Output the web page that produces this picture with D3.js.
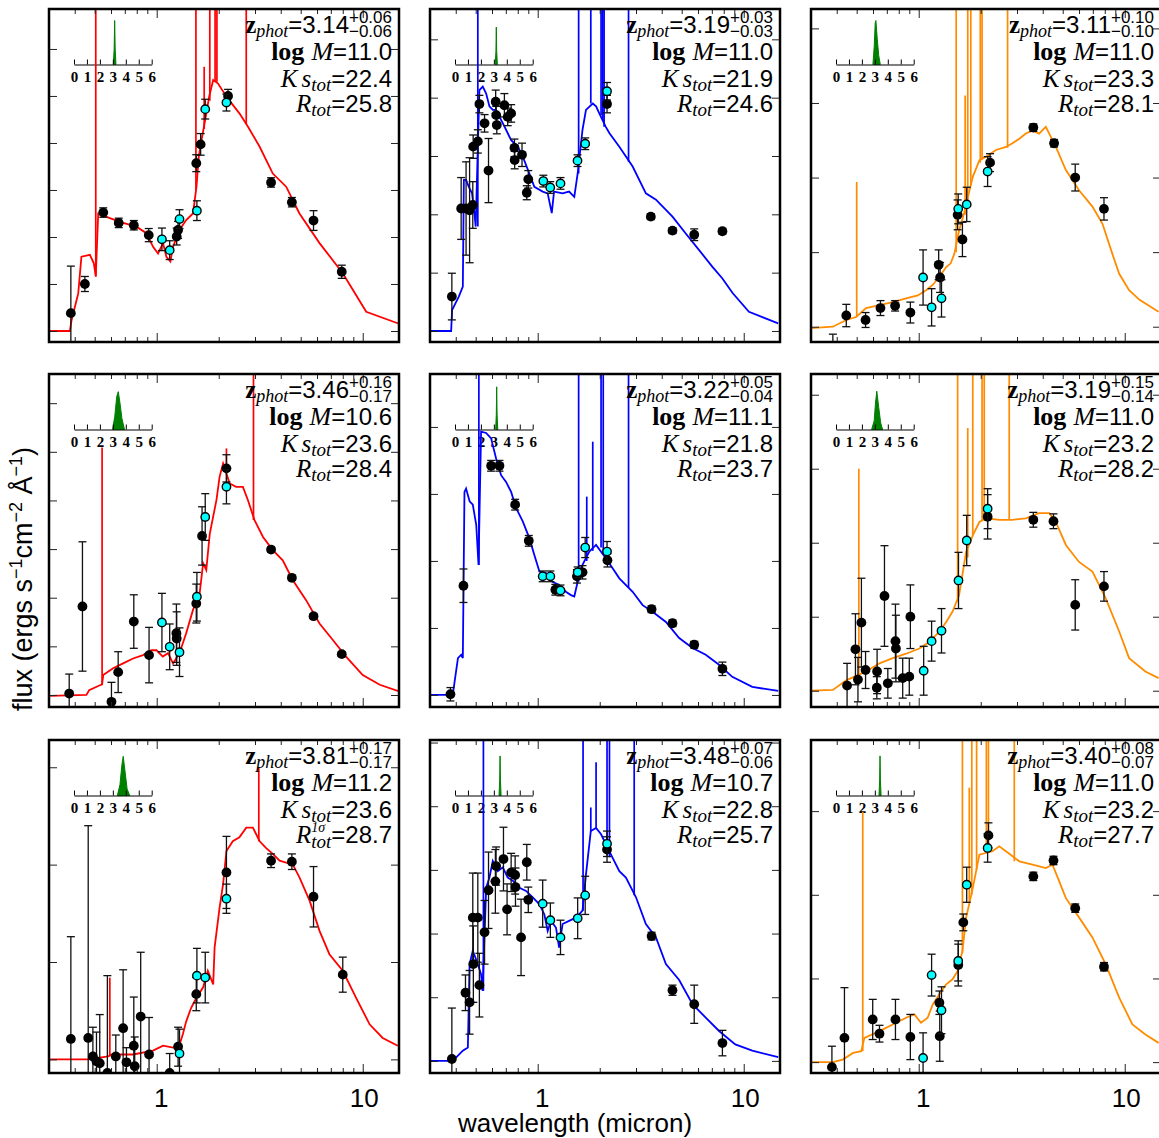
<!DOCTYPE html>
<html lang="en">
<head>
<meta charset="UTF-8">
<title>SED fits</title>
<script src="https://d3js.org/d3.v7.min.js"></script>
<style>
  body { margin: 0; background: #fff; }
  svg { display: block; }
</style>
</head>
<body>
<div id="chart"></div>
<script>
// ---- data: wavelength in micron, flux in arbitrary tick units ----
const waveRange = [0.3, 15];
const xMajorTicks = [1, 10];
const xMinorTicks = [0.3, 0.4, 0.5, 0.6, 0.7, 0.8, 0.9, 2, 3, 4, 5, 6, 7, 8, 9];
const zTicks = [0, 1, 2, 3, 4, 5, 6];

const fluxRange = [[-0.234, 6.85], [-0.189, 5.52], [-0.205, 4.26],
                   [-0.247, 6.6], [-0.18, 4.79], [-0.22, 4.28],
                   [-0.14, 3.28], [-0.19, 5.04], [-0.13, 3.85]];

const zPhot  = ["3.14", "3.19", "3.11", "3.46", "3.22", "3.19", "3.81", "3.48", "3.40"];
const zPlus  = ["0.06", "0.03", "0.10", "0.16", "0.05", "0.15", "0.17", "0.07", "0.08"];
const zMinus = ["0.06", "0.03", "0.10", "0.17", "0.04", "0.14", "0.17", "0.06", "0.07"];
const logMass = ["11.0", "11.0", "11.0", "10.6", "11.1", "11.0", "11.2", "10.7", "11.0"];
const ksTot  = ["22.4", "21.9", "23.3", "23.6", "21.8", "23.2", "23.6", "22.8", "23.2"];
const rTot   = ["25.8", "24.6", "28.1", "28.4", "23.7", "28.2", "28.7", "25.7", "27.7"];
const rSup   = [null, null, null, null, null, null, "1σ", null, null];

// model spectra [lambda, flux]
const model1 = [[0.30,0],[0.379,0],[0.386,0.23],[0.416,0.80],[0.431,1.58],[0.474,1.62],[0.495,1.44],[0.506,1.16],[0.520,2.50],[0.592,2.40],[0.687,2.30],[0.797,2.22],[0.891,2.08],[0.96,1.79],[1.015,1.65],[1.073,1.87],[1.114,1.58],[1.165,1.48],[1.2,1.79],[1.29,2.15],[1.39,2.36],[1.50,2.50],[1.56,3.07],[1.60,3.71],[1.65,4.06],[1.72,4.5],[1.80,5.0],[1.88,5.34],[1.98,5.27],[2.18,4.99],[2.34,4.81],[2.52,4.63],[2.77,4.35],[3.16,3.92],[3.66,3.35],[4.25,3.07],[4.93,2.50],[6.17,1.87],[8.0,1.23],[10.4,0.41],[14.9,0.16]];
const model2 = [[0.298,0],[0.38,0],[0.384,0.36],[0.402,0.5],[0.414,0.59],[0.433,0.76],[0.438,2.59],[0.449,2.59],[0.463,2.47],[0.48,2.36],[0.493,2.02],[0.50,1.79],[0.521,4.13],[0.541,4.19],[0.562,4.07],[0.583,3.85],[0.605,3.79],[0.627,3.79],[0.664,3.62],[0.702,3.45],[0.743,3.27],[0.80,3.16],[0.846,2.99],[0.911,2.70],[0.963,2.47],[1.057,2.39],[1.118,2.36],[1.17,2.02],[1.20,2.39],[1.32,2.36],[1.42,2.39],[1.505,2.30],[1.563,2.70],[1.65,3.45],[1.715,3.79],[1.85,3.90],[1.92,3.85],[1.99,3.73],[2.14,3.50],[2.23,3.39],[2.49,3.16],[2.89,2.82],[3.35,2.36],[3.75,2.25],[4.51,1.96],[5.23,1.67],[6.06,1.39],[7.05,1.10],[7.88,0.90],[8.83,0.65],[10.6,0.33],[14.7,0.13]];
const model3 = [[0.30,-0.02],[0.383,0],[0.445,0.09],[0.497,0.13],[0.555,0.25],[0.645,0.29],[0.748,0.33],[0.868,0.38],[0.99,0.42],[1.085,0.49],[1.17,0.56],[1.26,0.67],[1.36,0.80],[1.43,0.85],[1.49,0.98],[1.57,1.29],[1.66,1.52],[1.83,2.01],[1.97,2.23],[2.12,2.28],[2.37,2.37],[2.65,2.41],[2.85,2.46],[3.08,2.52],[3.31,2.59],[3.57,2.63],[3.84,2.59],[4.14,2.68],[4.30,2.59],[4.63,2.41],[5.18,2.10],[6.0,1.83],[6.97,1.61],[7.8,1.38],[8.7,0.98],[9.4,0.71],[10.5,0.49],[11.8,0.36],[14.6,0.2]];
const model4 = [[0.302,-0.02],[0.456,0],[0.47,0.1],[0.53,0.2],[0.543,0.22],[0.55,0.41],[0.614,0.55],[0.687,0.65],[0.768,0.75],[0.858,0.82],[0.942,0.92],[0.998,0.92],[1.07,0.79],[1.135,0.86],[1.2,0.65],[1.29,0.86],[1.39,1.27],[1.5,1.75],[1.616,2.09],[1.68,2.71],[1.74,2.57],[1.81,3.32],[1.95,4.01],[2.02,4.49],[2.10,4.76],[2.26,4.35],[2.43,4.28],[2.62,4.28],[2.77,4.01],[2.98,3.60],[3.28,3.25],[3.66,2.98],[4.09,2.77],[4.58,2.36],[5.31,1.95],[6.17,1.47],[7.16,1.13],[8.3,0.79],[10.0,0.41],[12.1,0.21],[14.9,0.08]];
const model5 = [[0.298,0],[0.387,0],[0.395,0.2],[0.41,0.55],[0.425,0.6],[0.433,0.55],[0.441,3.03],[0.449,3.08],[0.467,2.89],[0.484,2.84],[0.503,2.54],[0.516,1.94],[0.531,3.93],[0.562,3.91],[0.594,3.83],[0.628,3.53],[0.664,3.28],[0.702,3.18],[0.743,3.03],[0.785,2.79],[0.846,2.59],[0.911,2.34],[0.963,2.09],[1.02,1.84],[1.097,1.82],[1.18,1.69],[1.27,1.64],[1.37,1.54],[1.45,1.49],[1.505,1.47],[1.563,1.69],[1.65,1.94],[1.78,2.14],[1.92,2.24],[2.14,2.04],[2.31,1.89],[2.49,1.74],[2.89,1.54],[3.23,1.34],[3.61,1.24],[4.19,1.09],[4.86,0.85],[5.64,0.70],[6.54,0.60],[7.59,0.45],[8.8,0.27],[11.0,0.12],[14.7,0.06]];
const model6 = [[0.30,0],[0.383,0.01],[0.445,0.14],[0.506,0.21],[0.555,0.26],[0.645,0.37],[0.748,0.44],[0.868,0.50],[1.007,0.57],[1.13,0.66],[1.26,0.80],[1.36,0.93],[1.46,1.07],[1.57,1.29],[1.70,1.88],[1.83,2.10],[1.97,2.28],[2.12,2.33],[2.46,2.31],[2.85,2.31],[3.31,2.33],[3.84,2.40],[4.30,2.40],[4.63,2.28],[5.18,1.97],[6.0,1.74],[6.97,1.61],[8.08,1.25],[9.4,0.80],[10.5,0.44],[12.6,0.26],[14.6,0.17]];
const model7 = [[0.302,0],[0.465,0],[0.581,0.03],[0.603,0.05],[0.768,0.05],[0.96,0.09],[1.073,0.14],[1.20,0.12],[1.29,0.15],[1.34,0.26],[1.39,0.39],[1.47,0.53],[1.556,0.63],[1.68,0.74],[1.77,0.91],[1.88,0.77],[1.91,1.15],[2.02,1.56],[2.10,1.80],[2.18,2.14],[2.34,2.24],[2.52,2.28],[2.72,2.38],[2.93,2.38],[3.16,2.24],[3.40,2.17],[3.66,2.11],[3.95,2.04],[4.25,2.02],[4.58,2.0],[4.93,1.87],[5.52,1.63],[6.17,1.32],[6.89,1.08],[8.0,0.91],[9.3,0.63],[10.8,0.36],[12.5,0.22],[14.8,0.14]];
const model8 = [[0.298,0],[0.387,0],[0.433,0.16],[0.458,0.21],[0.467,1.52],[0.484,1.73],[0.512,1.52],[0.531,1.36],[0.54,1.10],[0.562,2.72],[0.583,2.88],[0.605,3.14],[0.64,2.98],[0.677,3.04],[0.715,2.88],[0.757,2.83],[0.815,2.72],[0.878,2.67],[0.946,2.57],[1.02,2.46],[1.077,2.30],[1.118,2.04],[1.16,2.20],[1.227,2.09],[1.27,1.78],[1.32,2.15],[1.42,2.20],[1.535,2.25],[1.65,2.36],[1.715,2.93],[1.81,3.61],[1.92,3.66],[2.03,3.56],[2.31,3.19],[2.49,2.98],[2.68,2.88],[3.0,2.57],[3.35,2.15],[3.75,1.94],[4.19,1.52],[4.86,1.27],[5.64,0.89],[6.54,0.68],[7.59,0.47],[9.1,0.26],[11.0,0.16],[14.7,0.06]];
const model9 = [[0.30,0],[0.383,0],[0.428,0.03],[0.48,0.11],[0.526,0.13],[0.545,0.29],[0.645,0.37],[0.748,0.45],[0.868,0.53],[0.953,0.57],[1.026,0.47],[1.105,0.53],[1.17,0.69],[1.26,0.81],[1.36,0.93],[1.46,0.99],[1.545,1.09],[1.63,1.33],[1.70,1.73],[1.83,2.08],[1.97,2.48],[2.28,2.52],[2.46,2.58],[2.65,2.52],[3.08,2.40],[3.57,2.36],[4.14,2.32],[4.46,2.36],[4.81,2.16],[5.18,1.96],[6.0,1.73],[6.97,1.49],[8.08,1.17],[9.4,0.77],[10.9,0.45],[12.6,0.33],[14.6,0.23]];

// emission lines [lambda, base flux, top flux]
const spikes1 = [[0.506,1.16,99],[1.55,3.0,99],[1.70,4.3,5.62],[1.81,4.9,99],[1.92,5.3,99],[1.96,5.3,99],[2.72,4.4,99]];
const spikes2 = [[0.512,1.79,99],[1.58,2.7,99],[1.81,3.9,99],[2.03,3.7,99],[2.07,3.6,99],[2.10,3.5,99],[2.76,2.9,99]];
const spikes3 = [[0.50,0.13,1.94],[1.52,1.0,99],[1.68,1.5,3.1],[1.73,1.7,99],[1.79,1.9,99],[1.99,2.2,99],[2.03,2.25,99],[2.70,2.4,99]];
const spikes4 = [[0.543,0.22,5.09],[2.18,4.6,5.07],[2.95,3.6,99]];
const spikes5 = [[0.518,1.94,99],[1.58,1.69,99],[1.73,2.0,2.96],[1.85,2.15,3.78],[2.03,2.2,99],[2.08,2.1,99],[2.76,1.6,99]];
const spikes6 = [[0.512,0.21,3.0],[1.545,1.2,99],[1.73,1.8,3.55],[1.83,2.1,99],[2.03,2.3,99],[2.08,2.3,99],[2.75,2.31,99]];
const spikes7 = [[0.592,0.03,0.84],[3.13,2.24,3.0]];
const spikes8 = [[0.545,1.1,99],[1.66,2.36,99],[1.81,3.6,3.98],[1.92,3.66,4.69],[2.17,3.3,99],[2.23,3.2,99],[2.94,2.6,99]];
const spikes9 = [[0.535,0.13,2.99],[1.63,1.3,99],[1.76,1.9,3.28],[1.81,2.0,99],[1.91,2.3,99],[2.13,2.5,99],[2.18,2.5,99],[2.91,2.4,99]];

// broad/intermediate band photometry [lambda, flux, err]
const phot1 = [[0.383,0.38,1.0],[0.448,1.0,0.16],[0.550,2.52,0.1],[0.654,2.30,0.1],[0.774,2.25,0.1],[0.915,2.04,0.14],[1.25,2.01,0.18],[1.27,2.15,0.18],[1.556,3.57,0.18],[1.634,3.97,0.23],[2.22,5.0,0.14],[3.59,3.16,0.1],[4.53,2.74,0.1],[5.77,2.35,0.21],[7.91,1.26,0.14]];
const phot2 = [[0.383,0.59,0.4],[0.425,2.10,0.53],[0.449,2.10,0.8],[0.467,2.07,0.9],[0.484,2.16,0.4],[0.486,3.16,0.2],[0.512,3.25,0.2],[0.521,3.89,0.15],[0.552,3.56,0.15],[0.577,2.75,0.55],[0.625,3.93,0.2],[0.629,3.70,0.15],[0.633,3.53,0.15],[0.689,3.87,0.2],[0.715,3.67,0.15],[0.743,3.73,0.15],[0.771,3.14,0.15],[0.773,2.93,0.15],[0.839,3.02,0.2],[0.885,2.37,0.12],[0.90,2.60,0.15],[2.17,3.89,0.15],[3.54,1.96,0.05],[4.51,1.72,0.05],[5.75,1.65,0.1],[7.88,1.71,0.05]];
const phot3 = [[0.383,-0.4,0.3],[0.445,0.15,0.15],[0.552,0.09,0.1],[0.652,0.25,0.1],[0.768,0.28,0.07],[0.911,0.19,0.14],[1.25,0.83,0.2],[1.27,0.66,0.2],[1.545,1.50,0.2],[1.63,1.17,0.23],[2.22,2.20,0.12],[3.6,2.67,0.05],[4.54,2.46,0.05],[5.75,2.0,0.18],[7.93,1.58,0.15]];
const phot4 = [[0.376,0.03,0.4],[0.436,1.82,1.33],[0.603,-0.14,0.4],[0.65,0.47,0.42],[0.774,1.51,0.55],[0.918,0.82,0.57],[1.246,1.27,0.6],[1.25,1.16,0.55],[1.556,1.88,0.4],[1.66,3.27,0.6],[2.18,4.66,0.28],[3.59,2.99,0.05],[4.53,2.41,0.05],[5.77,1.62,0.05],[7.91,0.84,0.05]];
const phot5 = [[0.377,0.01,0.1],[0.436,1.63,0.25],[0.594,3.42,0.08],[0.652,3.42,0.08],[0.777,2.84,0.08],[0.905,2.30,0.08],[1.218,1.57,0.08],[1.55,1.77,0.1],[1.65,1.83,0.1],[2.18,2.01,0.1],[3.57,1.28,0.05],[4.51,1.07,0.05],[5.75,0.75,0.05],[7.88,0.39,0.1]];
const phot6 = [[0.449,0.07,0.3],[0.493,0.56,0.48],[0.507,0.15,0.3],[0.527,0.92,0.6],[0.552,0.28,0.25],[0.628,0.26,0.3],[0.626,0.04,0.15],[0.682,1.28,0.68],[0.708,0.10,0.2],[0.771,0.67,0.5],[0.775,0.57,0.45],[0.836,0.17,0.27],[0.90,0.19,0.25],[0.911,1.0,0.43],[2.16,2.35,0.3],[3.6,2.31,0.1],[4.51,2.29,0.1],[5.75,1.16,0.34],[7.93,1.41,0.2]];
const phot7 = [[0.383,0.21,1.05],[0.465,0.22,2.18],[0.49,0.03,0.3],[0.51,-0.02,0.3],[0.529,-0.04,0.5],[0.576,-0.14,1.0],[0.633,0.03,0.22],[0.687,0.32,0.6],[0.713,-0.03,0.15],[0.774,0.14,0.5],[0.782,-0.07,0.3],[0.836,0.44,0.66],[0.918,0.05,0.38],[1.156,-0.14,0.2],[1.27,0.13,0.2],[1.556,0.67,0.17],[2.18,1.92,0.37],[3.59,2.04,0.07],[4.53,2.03,0.08],[5.77,1.67,0.31],[8.0,0.87,0.18]];
const phot8 = [[0.383,0.03,0.8],[0.446,1.07,0.28],[0.467,0.92,0.5],[0.484,2.25,0.7],[0.487,1.52,0.6],[0.512,2.25,0.7],[0.521,1.19,0.5],[0.552,2.02,0.5],[0.577,2.68,0.6],[0.623,2.82,0.5],[0.628,3.06,0.3],[0.682,3.17,0.5],[0.71,2.38,0.4],[0.743,2.96,0.3],[0.777,2.92,0.3],[0.78,2.73,0.3],[0.83,1.94,0.6],[0.885,3.12,0.28],[0.90,2.53,0.2],[2.17,3.32,0.2],[3.57,1.96,0.06],[4.51,1.11,0.08],[5.75,0.89,0.3],[7.88,0.28,0.2]];
const phot9 = [[0.379,-0.06,0.25],[0.436,0.29,0.6],[0.598,0.51,0.24],[0.645,0.34,0.1],[0.771,0.51,0.24],[0.911,0.30,0.27],[1.26,0.71,0.14],[1.265,0.31,0.3],[1.556,1.16,0.25],[1.646,1.67,0.1],[2.18,2.71,0.15],[3.6,2.22,0.05],[4.51,2.41,0.05],[5.75,1.84,0.05],[7.93,1.14,0.05]];

// NIR medium bands [lambda, flux, err]
const med1 = [[1.06,1.95,0.24],[1.156,1.72,0.2],[1.29,2.38,0.2],[1.567,2.56,0.21],[1.72,4.72,0.21],[2.18,4.86,0.18]];
const med2 = [[1.065,2.57,0.1],[1.15,2.46,0.1],[1.29,2.53,0.1],[1.56,2.92,0.1],[1.70,3.21,0.1],[2.17,4.11,0.15]];
const med3 = [[1.05,0.66,0.37],[1.155,0.26,0.25],[1.29,0.38,0.25],[1.555,1.58,0.2],[1.71,1.64,0.23],[2.16,2.08,0.2]];
const med4 = [[1.06,1.49,0.6],[1.156,0.99,0.47],[1.29,0.88,0.5],[1.567,2.02,0.5],[1.72,3.66,0.48],[2.18,4.28,0.35]];
const med5 = [[1.057,1.77,0.08],[1.152,1.77,0.08],[1.29,1.56,0.08],[1.563,1.83,0.08],[1.70,2.20,0.15],[2.17,2.14,0.15]];
const med6 = [[1.057,0.27,0.33],[1.155,0.67,0.27],[1.29,0.81,0.3],[1.56,1.49,0.38],[1.71,2.03,0.34],[2.16,2.46,0.27]];
const med7 = [[1.29,0.06,0.25],[1.567,0.86,0.28],[1.72,0.84,0.26],[2.18,1.65,0.15]];
const med8 = [[1.057,2.47,0.37],[1.152,2.21,0.27],[1.29,1.94,0.27],[1.563,2.24,0.32],[1.70,2.60,0.3],[2.17,3.41,0.2]];
const med9 = [[1.05,0.05,0.3],[1.155,1.04,0.25],[1.29,0.62,0.28],[1.555,1.21,0.24],[1.71,2.12,0.21],[2.16,2.56,0.17]];

// redshift probability (normalised) [z, P]
const pz1 = [[3.04,0],[3.10,0.35],[3.14,1.0],[3.18,0.35],[3.24,0]];
const pz2 = [[3.11,0],[3.16,0.3],[3.19,0.85],[3.22,0.3],[3.27,0]];
const pz3 = [[2.85,0],[2.95,0.4],[3.03,0.95],[3.08,1.0],[3.18,0.6],[3.3,0.2],[3.42,0]];
const pz4 = [[2.98,0],[3.15,0.3],[3.3,0.75],[3.42,0.86],[3.55,0.6],[3.7,0.25],[3.9,0]];
const pz5 = [[3.14,0],[3.19,0.35],[3.22,0.97],[3.25,0.35],[3.3,0]];
const pz6 = [[2.75,0],[2.95,0.2],[3.05,0.6],[3.15,0.87],[3.3,0.5],[3.45,0.15],[3.6,0]];
const pz7 = [[3.35,0],[3.55,0.25],[3.7,0.7],[3.8,0.89],[3.92,0.6],[4.1,0.15],[4.3,0]];
const pz8 = [[3.40,0],[3.45,0.35],[3.48,0.9],[3.51,0.35],[3.56,0]];
const pz9 = [[3.32,0],[3.37,0.35],[3.40,0.9],[3.43,0.35],[3.48,0]];

const models = [model1, model2, model3, model4, model5, model6, model7, model8, model9];
const spikes = [spikes1, spikes2, spikes3, spikes4, spikes5, spikes6, spikes7, spikes8, spikes9];
const phots = [phot1, phot2, phot3, phot4, phot5, phot6, phot7, phot8, phot9];
const meds = [med1, med2, med3, med4, med5, med6, med7, med8, med9];
const pzs = [pz1, pz2, pz3, pz4, pz5, pz6, pz7, pz8, pz9];
const colColors = ["#ff0000", "#0000ff", "#ff8c00"];

// ---- layout ----
const SERIF = "'Liberation Serif','DejaVu Serif',serif";
const SANS = "'Liberation Sans',Arial,sans-serif";
const colLeft = [49, 430, 811], rowTop = [9, 374, 740];
const W = 350, H = 333;

const svg = d3.select("#chart").append("svg")
  .attr("width", 1159).attr("height", 1138);

function styled(sel, p) {
  return sel.attr("font-family", p.f === "serif" ? SERIF : SANS)
    .attr("font-size", p.s)
    .attr("font-weight", p.b ? "bold" : "normal")
    .attr("font-style", p.i ? "italic" : "normal");
}

// one text per line, right aligned; a "stack" puts its second part under the first
function writeLine(g, pieces, xRight, yBase) {
  const t = g.append("text").attr("x", xRight).attr("y", yBase)
    .attr("text-anchor", "end").attr("fill", "#000");
  let cur = 0;
  const add = (p, dx) => {
    const s = styled(t.append("tspan"), p).attr("dy", (p.dy || 0) - cur).text(p.t);
    if (dx) s.attr("dx", dx);
    cur = p.dy || 0;
    return s;
  };
  pieces.forEach(p => {
    if (p.stack) {
      const a = add(p.stack[0], 0);
      add(p.stack[1], -a.node().getComputedTextLength());
    } else {
      add(p, p.dx || 0);
    }
  });
}

const x = d3.scaleLog().domain(waveRange).range([0, W]);

for (let i = 0; i < 9; i++) {
  const col = i % 3, row = Math.floor(i / 3);
  const color = colColors[col];
  const y = d3.scaleLinear().domain(fluxRange[i]).range([H, 0]);
  const g = svg.append("g").attr("transform", `translate(${colLeft[col]},${rowTop[row]})`);

  g.append("clipPath").attr("id", "clip" + i)
    .append("rect").attr("width", W).attr("height", H);
  const inner = g.append("g").attr("clip-path", `url(#clip${i})`);

  // inset P(z)
  const zx = d3.scaleLinear().domain([0, 6]).range([25, 102.7]);
  const zy = d3.scaleLinear().domain([0, 1]).range([55.5, 11.5]);
  inner.append("path")
    .datum(pzs[i])
    .attr("d", d3.area().x(d => zx(d[0])).y0(zy(0)).y1(d => zy(d[1])))
    .attr("fill", "#008000").attr("stroke", "#008000").attr("stroke-width", 1);
  const zax = inner.append("g").attr("transform", "translate(0,55.5)")
    .call(d3.axisBottom(zx).tickValues(zTicks).tickSizeInner(-5).tickSizeOuter(0).tickPadding(7).tickFormat(d3.format("d")));
  zax.select(".domain").attr("stroke", "#000").attr("stroke-width", 1.2);
  zax.selectAll(".tick line").attr("stroke", "#000");
  zax.selectAll("text").attr("font-family", SERIF).attr("font-size", 15)
    .attr("font-weight", "bold").attr("fill", "#000");

  // model spectrum and lines
  inner.append("path")
    .datum(models[i])
    .attr("d", d3.line().x(d => x(d[0])).y(d => y(d[1])))
    .attr("fill", "none").attr("stroke", color).attr("stroke-width", 1.8);
  inner.selectAll(".spike").data(spikes[i]).enter().append("line")
    .attr("x1", d => x(d[0])).attr("x2", d => x(d[0]))
    .attr("y1", d => y(d[1])).attr("y2", d => y(d[2]))
    .attr("stroke", color).attr("stroke-width", 1.7);

  // photometry
  const drawPoints = (data, fill, r, sw) => {
    const pg = inner.append("g");
    const eb = pg.selectAll(".eb").data(data).enter().append("g")
      .attr("stroke", "#111").attr("stroke-width", 1.3);
    eb.append("line").attr("x1", d => x(d[0])).attr("x2", d => x(d[0]))
      .attr("y1", d => y(d[1] - d[2])).attr("y2", d => y(d[1] + d[2]));
    eb.append("line").attr("x1", d => x(d[0]) - 4).attr("x2", d => x(d[0]) + 4)
      .attr("y1", d => y(d[1] - d[2])).attr("y2", d => y(d[1] - d[2]));
    eb.append("line").attr("x1", d => x(d[0]) - 4).attr("x2", d => x(d[0]) + 4)
      .attr("y1", d => y(d[1] + d[2])).attr("y2", d => y(d[1] + d[2]));
    pg.selectAll("circle").data(data).enter().append("circle")
      .attr("cx", d => x(d[0])).attr("cy", d => y(d[1])).attr("r", r)
      .attr("fill", fill).attr("stroke", "#000").attr("stroke-width", sw);
  };
  drawPoints(phots[i], "#000", 4.9, 0);
  drawPoints(meds[i], "#00ffff", 4.2, 1.4);

  // ticks
  const tk = (sel) => { sel.select(".domain").remove(); sel.selectAll("line").attr("stroke", "#222"); };
  g.append("g").attr("transform", `translate(0,${H})`)
    .call(d3.axisBottom(x).tickValues(xMinorTicks).tickSize(-5).tickFormat("")).call(tk);
  g.append("g").attr("transform", `translate(0,${H})`)
    .call(d3.axisBottom(x).tickValues(xMajorTicks).tickSize(-9).tickFormat("")).call(tk);
  g.append("g").call(d3.axisTop(x).tickValues(xMinorTicks).tickSize(-5).tickFormat("")).call(tk);
  g.append("g").call(d3.axisTop(x).tickValues(xMajorTicks).tickSize(-9).tickFormat("")).call(tk);
  const yt = d3.range(0, Math.floor(fluxRange[i][1]) + 1);
  g.append("g").call(d3.axisLeft(y).tickValues(yt).tickSize(-8).tickFormat("")).call(tk);
  g.append("g").attr("transform", `translate(${W},0)`)
    .call(d3.axisRight(y).tickValues(yt).tickSize(-8).tickFormat("")).call(tk);

  if (row === 2) {
    const lab = g.append("g").attr("transform", `translate(0,${H})`)
      .call(d3.axisBottom(x).tickValues(xMajorTicks).tickSize(0).tickPadding(16).tickFormat(d3.format("d")));
    lab.select(".domain").remove();
    lab.selectAll("text").attr("font-family", SANS).attr("font-size", 26).attr("fill", "#000")
      .attr("dx", d => d === 1 ? 4 : 1);
  }

  // frame
  g.append("rect").attr("width", W).attr("height", H)
    .attr("fill", "none").attr("stroke", "#000").attr("stroke-width", 2.5);

  // annotations
  const xr = W - 7;
  writeLine(g, [
    { t: "z", f: "serif", s: 25, b: 1 },
    { t: "phot", f: "serif", s: 18, i: 1, dy: 4 },
    { t: "=" + zPhot[i], f: "sans", s: 24 },
    { stack: [{ t: "+" + zPlus[i], f: "sans", s: 17, dy: -10 },
              { t: "\u2212" + zMinus[i], f: "sans", s: 17, dy: 4 }] }
  ], xr, 24.3);
  writeLine(g, [
    { t: "log", f: "serif", s: 26, b: 1 },
    { t: "M", f: "serif", s: 26, i: 1, dx: 7 },
    { t: "=" + logMass[i], f: "sans", s: 24 }
  ], xr, 51);
  writeLine(g, [
    { t: "K", f: "serif", s: 25, i: 1 },
    { t: "s", f: "serif", s: 25, i: 1, dx: 4 },
    { t: "tot", f: "serif", s: 19, i: 1, dy: 4 },
    { t: "=" + ksTot[i], f: "sans", s: 24 }
  ], xr, 78.3);
  const rSub = rSup[i]
    ? { stack: [{ t: rSup[i], f: "serif", s: 14, i: 1, dy: -11 }, { t: "tot", f: "serif", s: 19, i: 1, dy: 5 }] }
    : { t: "tot", f: "serif", s: 19, i: 1, dy: 4 };
  writeLine(g, [
    { t: "R", f: "serif", s: 25, i: 1 },
    rSub,
    { t: "=" + rTot[i], f: "sans", s: 24 }
  ], xr, 103.3);
}

// axis titles
svg.append("text")
  .attr("x", 575).attr("y", 1132)
  .attr("text-anchor", "middle")
  .attr("font-family", SANS).attr("font-size", 26)
  .text("wavelength (micron)");

const yl = svg.append("text")
  .attr("transform", "translate(32,579) rotate(-90)")
  .attr("text-anchor", "middle")
  .attr("font-family", SANS).attr("font-size", 27);
yl.append("tspan").text("flux (ergs s");
yl.append("tspan").attr("dy", -10).attr("font-size", 18).text("\u22121");
yl.append("tspan").attr("dy", 10).text("cm");
yl.append("tspan").attr("dy", -10).attr("font-size", 18).text("\u22122");
yl.append("tspan").attr("dy", 10).text(" \u00c5");
yl.append("tspan").attr("dy", -10).attr("font-size", 18).text("\u22121");
yl.append("tspan").attr("dy", 10).text(")");
</script>
</body>
</html>
